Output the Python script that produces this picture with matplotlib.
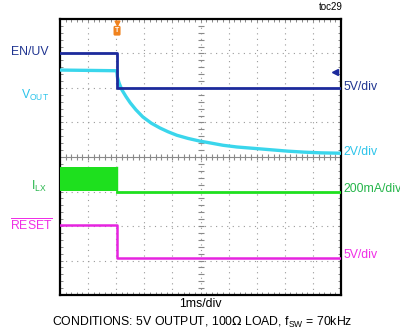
import numpy as np
import matplotlib.pyplot as plt

plt.rcParams['font.family'] = ['Liberation Sans', 'DejaVu Sans']

# ---------- data (scope divisions: x = 1ms/div, y = div from bottom) ----------
trig_t = 2.03

en_t = [0.0, trig_t, trig_t, 10.0]
en_v = [7.0, 7.0, 6.0, 6.0]

vout_t = [0.0, 2.02, 2.04, 2.10, 2.20, 2.35, 2.50, 2.70, 2.95, 3.25, 3.56, 3.85, 4.16,
          4.55, 4.98, 5.40, 5.80, 6.30, 6.90, 7.50, 8.10, 8.70, 9.30, 9.96]
vout_v = [6.52, 6.50, 6.33, 6.15, 5.95, 5.75, 5.57, 5.37, 5.16, 4.98, 4.84, 4.73, 4.63,
          4.54, 4.46, 4.40, 4.34, 4.29, 4.25, 4.21, 4.17, 4.14, 4.12, 4.11]

ilx_low = 3.01
ilx_peak = 3.72
ilx_t = [trig_t, 10.0]
ilx_v = [3.0, 3.0]

rst_t = [0.0, trig_t, trig_t, 10.0]
rst_v = [2.03, 2.03, 1.06, 1.06]

c_en = '#1c2a9c'
c_vout = '#3ad6ec'
c_ilx = '#1ee01e'
c_rst = '#e624e0'

fig = plt.figure(figsize=(4.0, 3.32), dpi=100)
ax = fig.add_axes([0.15, 0.1114, 0.7025, 0.8314])
ax.set_xlim(0, 10)
ax.set_ylim(0, 8)

# ---------- graticule ----------
for gx in range(1, 10):
    if gx != 5:
        ax.axvline(gx, color='#9a9a9a', lw=0.8, ls=(0, (1, 4)), zorder=1)
for gy in range(1, 8):
    if gy != 4:
        ax.axhline(gy, color='#9a9a9a', lw=0.8, ls=(0, (1, 4)), zorder=1)
ax.axhline(4, color='#8a8a8a', lw=0.8, zorder=1)
ax.axvline(5, color='#9a9a9a', lw=0.8, ls=(0, (1, 4)), zorder=1)
tx = np.arange(0.2, 10, 0.2)
ty = np.arange(0.2, 8, 0.2)
ax.plot(tx, np.full(len(tx), 4.0), ls='none', marker='|', ms=5, mew=0.8, color='#8a8a8a', zorder=1)
ax.plot(np.full(len(ty), 5.0), ty, ls='none', marker='_', ms=5, mew=0.8, color='#8a8a8a', zorder=1)

ax.set_xticks([])
ax.set_yticks([])
ax.set_xticks(tx, minor=True)
ax.set_yticks(ty, minor=True)
ax.tick_params(which='minor', direction='in', length=2.5, width=0.7, color='#8a8a8a',
               top=True, right=True, labelbottom=False, labelleft=False)
for s in ax.spines.values():
    s.set_linewidth(1.6)
    s.set_color('black')

# ---------- traces ----------
ax.plot(en_t, en_v, color=c_en, lw=2.0, zorder=4)
ax.plot(vout_t, vout_v, color=c_vout, lw=2.4, zorder=3, solid_joinstyle='round')
ax.fill_between([0.0, trig_t], ilx_low, ilx_peak, color=c_ilx, lw=0, zorder=3)
ax.plot([trig_t, trig_t], [ilx_low, ilx_peak], color=c_ilx, lw=1.0, zorder=3)
ax.plot(ilx_t, ilx_v, color=c_ilx, lw=2.0, zorder=3)
ax.plot(rst_t, rst_v, color=c_rst, lw=1.8, zorder=3)

# markers: trigger and reference arrow
ax.text(trig_t, 7.66, 'T', ha='center', va='center', fontsize=5,
        color='white', fontweight='bold', clip_on=False, zorder=6,
        bbox=dict(boxstyle='round,pad=0.2', fc='#f0821e', ec='none'))
ax.plot([trig_t], [7.87], marker='v', ms=3.5, color='#f0821e', clip_on=False, zorder=6)
ax.plot([9.79], [6.47], marker='<', ms=4, color=c_en, zorder=6)

# ---------- labels ----------
fs = 8.8
def px(x, y):
    return x / 400.0, 1 - y / 332.0

fig.text(*px(48, 52), 'EN/UV', color='#1f3490', fontsize=fs, ha='right', va='center')
fig.text(*px(49, 95), r'V$_{\mathregular{OUT}}$', color='#2cc4ea', fontsize=fs, ha='right', va='center')
fig.text(*px(47, 186), r'I$_{\mathregular{LX}}$', color='#25b54a', fontsize=fs, ha='right', va='center')
fig.text(*px(53, 226), r'$\overline{\mathregular{RESET}}$', color='#f02ee6', fontsize=fs, ha='right', va='center')

fig.text(*px(343, 87), '5V/div', color='#1f3490', fontsize=fs, ha='left', va='center')
fig.text(*px(343, 152), '2V/div', color='#2cc4ea', fontsize=fs, ha='left', va='center')
fig.text(*px(343, 189), '200mA/div', color='#25b54a', fontsize=fs, ha='left', va='center')
fig.text(*px(343, 255), '5V/div', color='#f02ee6', fontsize=fs, ha='left', va='center')

fig.text(*px(200, 304), '1ms/div', color='black', fontsize=fs, ha='center', va='center')
fig.text(*px(202, 322), r'CONDITIONS: 5V OUTPUT, 100$\Omega$ LOAD, f$_{\mathregular{SW}}$ = 70kHz',
         color='black', fontsize=fs, ha='center', va='center')
fig.text(*px(343, 7), 'toc29', color='black', fontsize=7, ha='right', va='center')

fig.savefig('out.png', dpi=100)
